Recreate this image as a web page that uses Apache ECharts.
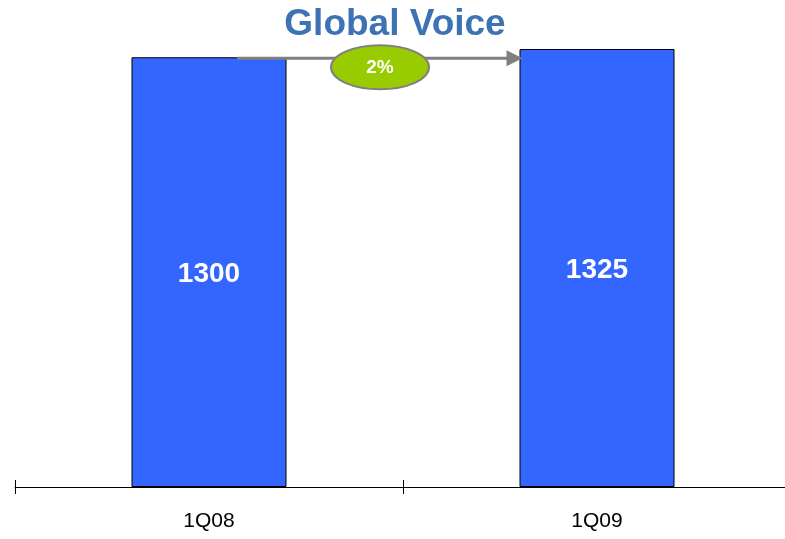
<!DOCTYPE html>
<html>
<head>
<meta charset="utf-8">
<script src="https://cdn.jsdelivr.net/npm/echarts@6/dist/echarts.min.js"></script>
<style>
  html, body { margin: 0; padding: 0; background: #fff; overflow: hidden; }
  #chart { width: 791px; height: 539px; }
</style>
</head>
<body>
<div id="chart"></div>
<script>
const categories = ['1Q08', '1Q09']
const voice = [1300, 1325]
const growthLabel = '2%'

const chart = echarts.init(document.getElementById('chart'))
const font = 'Liberation Sans, Arial, sans-serif'

chart.setOption({
  animation: false,
  title: {
    text: 'Global Voice',
    left: 390,
    textAlign: 'center',
    top: 1,
    textStyle: {
      fontSize: 37,
      fontFamily: font,
      fontWeight: 'bold',
      color: '#3d72b4'
    }
  },
  grid: { left: 15, right: 0, top: 49, bottom: 52 },
  xAxis: [
    {
      type: 'category',
      data: categories,
      axisLine: { lineStyle: { color: '#000', width: 1 } },
      axisTick: { show: true, length: 7, lineStyle: { color: '#000' } },
      axisLabel: { fontSize: 21, fontFamily: font, color: '#000', margin: 24 }
    },
    {
      // upper half of the crossing tick marks
      type: 'category',
      data: categories,
      position: 'bottom',
      axisLine: { show: false },
      axisTick: { show: true, inside: true, length: 7, lineStyle: { color: '#000' } },
      axisLabel: { show: false }
    }
  ],
  yAxis: {
    type: 'value',
    min: 0,
    max: Math.max(...voice),
    show: false,
    splitLine: { show: false }
  },
  series: [
    {
      type: 'bar',
      data: voice,
      barWidth: 155,
      itemStyle: { color: '#3366ff', borderColor: '#000', borderWidth: 1 },
      label: {
        show: true,
        position: 'inside',
        offset: [0, 2],
        color: '#fff',
        fontSize: 28,
        fontWeight: 'bold',
        fontFamily: font
      }
    }
  ]
})

// growth arrow from first bar top to second bar, with ellipse badge
const p0 = chart.convertToPixel({ seriesIndex: 0 }, [0, voice[0]])
const p1 = chart.convertToPixel({ seriesIndex: 0 }, [1, voice[0]])
const startX = p0[0] + 28
const endX = p1[0] - 155 / 2 + 3
const y = p0[1] + 1
const cx = (p0[0] + p1[0]) / 2 - 23

chart.setOption({
  graphic: [
    {
      type: 'line',
      shape: { x1: startX, y1: y, x2: endX - 14, y2: y },
      style: { stroke: '#808080', lineWidth: 3 },
      z: 10
    },
    {
      type: 'polygon',
      shape: { points: [[endX - 16, y - 8], [endX, y], [endX - 16, y + 8]] },
      style: { fill: '#808080' },
      z: 10
    },
    {
      type: 'ellipse',
      shape: { cx: cx, cy: y + 9, rx: 49, ry: 22 },
      style: { fill: '#99cc00', stroke: '#808080', lineWidth: 2 },
      z: 11
    },
    {
      type: 'text',
      x: cx,
      y: y + 10,
      style: {
        text: growthLabel,
        fill: '#fff',
        font: 'bold 19px ' + font,
        align: 'center',
        verticalAlign: 'middle'
      },
      z: 12
    }
  ]
})
</script>
</body>
</html>
